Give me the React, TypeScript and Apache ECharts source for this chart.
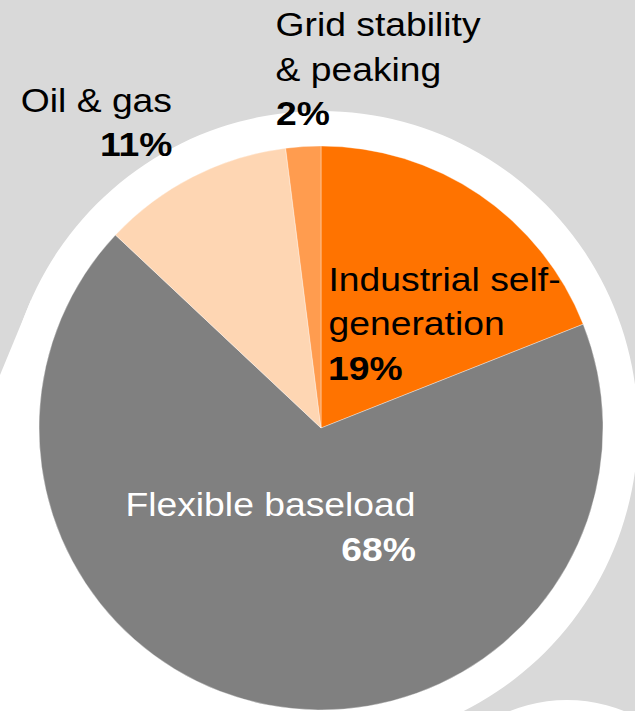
import React, { useEffect, useRef } from "react";
import * as echarts from "echarts";

// ---- data ----
const labelLines: string[][] = [
  ["Industrial self-", "generation"],
  ["Flexible baseload"],
  ["Oil & gas"],
  ["Grid stability", "& peaking"],
];
const categories: string[] = labelLines.map((l) => l.join(" ").replace("- ", "-"));
const shares: number[] = [19, 68, 11, 2];
const sliceColors: string[] = ["#ff7300", "#808080", "#fed6b3", "#ff9c4f"];
const labelColors: string[] = ["#000000", "#ffffff", "#000000", "#000000"];

// ---- layout (positions only) ----
const CX = 321;
const CY = 428;
const R = 282;
const FONT = "'Liberation Sans', Arial, Helvetica, sans-serif";
const FS = 33;
const SX = 1.13;
const STEP = 44.5;
const labelPos = [
  { x: 328.5, y: 279, align: "left", px: 328, palign: "left" },
  { x: 125.4, y: 504.7, align: "left", px: 416, palign: "right" },
  { x: 172, y: 100, align: "right", px: 172.5, palign: "right" },
  { x: 275.5, y: 24.5, align: "left", px: 276, palign: "left" },
];

export default function App() {
  const ref = useRef<HTMLDivElement>(null);
  useEffect(() => {
    document.body.style.margin = "0";
    if (!ref.current) return;
    const chart = echarts.init(ref.current, null, { renderer: "svg" });

    const texts: any[] = [];
    labelLines.forEach((lines, i) => {
      const p = labelPos[i];
      lines.forEach((line, j) => {
        texts.push({
          type: "text",
          x: p.x,
          y: p.y + j * STEP,
          scaleX: SX,
          z: 100,
          silent: true,
          style: {
            text: line,
            fill: labelColors[i],
            font: `normal ${FS}px ${FONT}`,
            textAlign: p.align,
            textVerticalAlign: "middle",
          },
        });
      });
      texts.push({
        type: "text",
        x: p.px,
        y: p.y + lines.length * STEP,
        scaleX: SX,
        z: 100,
        silent: true,
        style: {
          text: `${shares[i]}%`,
          fill: labelColors[i],
          font: `bold ${FS}px ${FONT}`,
          textAlign: p.palign,
          textVerticalAlign: "middle",
        },
      });
    });

    chart.setOption({
      animation: false,
      backgroundColor: "#d9d9d9",
      graphic: [
        {
          type: "circle",
          z: 0,
          silent: true,
          shape: { cx: CX, cy: CY, r: 317 },
          style: { fill: "#ffffff" },
        },
        {
          type: "polygon",
          z: 0,
          silent: true,
          shape: {
            points: [
              [31, 300],
              [0, 375],
              [0, 711],
              [330, 711],
              [330, 300],
            ],
          },
          style: { fill: "#ffffff" },
        },
        {
          type: "circle",
          z: 0,
          silent: true,
          shape: { cx: 567, cy: 853, r: 153 },
          style: { fill: "#ffffff" },
        },
        ...texts,
      ],
      series: [
        {
          type: "pie",
          center: [CX, CY],
          radius: R,
          startAngle: 90,
          clockwise: true,
          silent: true,
          label: { show: false },
          labelLine: { show: false },
          itemStyle: { borderColor: "rgba(255,255,255,0.7)", borderWidth: 0.5 },
          emphasis: { disabled: true },
          data: categories.map((name, i) => ({
            name,
            value: shares[i],
            itemStyle: { color: sliceColors[i] },
          })),
        },
      ],
    });
    return () => chart.dispose();
  }, []);
  return <div ref={ref} style={{ width: 635, height: 711 }} />;
}
